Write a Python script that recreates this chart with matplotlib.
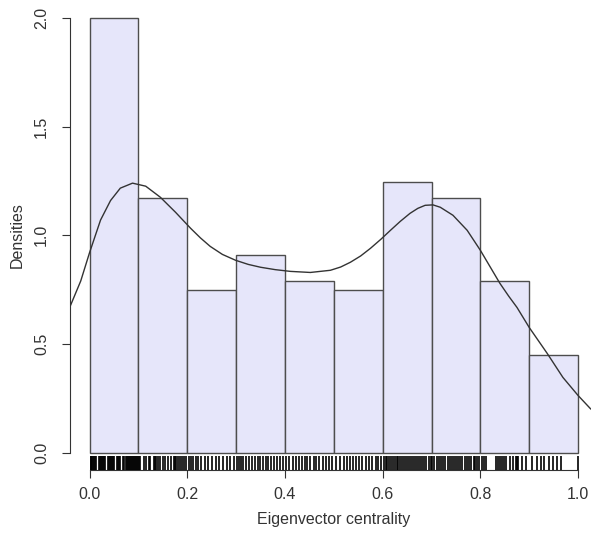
import numpy as np
import matplotlib.pyplot as plt

plt.rcParams['font.family'] = ['Liberation Sans', 'DejaVu Sans']

# histogram: bin edges and densities
bin_edges = [0.0, 0.1, 0.2, 0.3, 0.4, 0.5, 0.6, 0.7, 0.8, 0.9, 1.0]
densities = [2.0, 1.17, 0.75, 0.91, 0.79, 0.75, 1.245, 1.17, 0.79, 0.45]

# density curve, read point by point
curve_x = [-0.039, -0.018, 0.0, 0.0225, 0.043, 0.063, 0.088, 0.115, 0.145, 0.176,
           0.207, 0.227, 0.247, 0.272, 0.299, 0.325, 0.350, 0.380, 0.411, 0.452,
           0.493, 0.514, 0.534, 0.555, 0.575, 0.596, 0.616, 0.636, 0.656, 0.672,
           0.687, 0.703, 0.718, 0.744, 0.773, 0.800, 0.820, 0.840, 0.858, 0.875,
           0.900, 0.937, 0.969, 1.0, 1.025, 1.04]
curve_y = [0.677, 0.79, 0.92, 1.07, 1.16, 1.217, 1.24, 1.226, 1.175, 1.106,
           1.032, 0.988, 0.949, 0.912, 0.885, 0.866, 0.853, 0.842, 0.834, 0.829,
           0.839, 0.854, 0.876, 0.905, 0.94, 0.981, 1.023, 1.064, 1.101, 1.124,
           1.138, 1.140, 1.129, 1.092, 1.023, 0.931, 0.855, 0.779, 0.720, 0.668,
           0.576, 0.456, 0.346, 0.263, 0.203, 0.175]

# rug (individual observations)
rug = [0.002, 0.004, 0.006, 0.008, 0.010, 0.012, 0.014, 0.020, 0.022, 0.024,
       0.026, 0.028, 0.030, 0.032, 0.038, 0.040, 0.042, 0.044, 0.046, 0.048,
       0.050, 0.056, 0.058, 0.060, 0.062, 0.075, 0.077, 0.079, 0.081, 0.083,
       0.085, 0.087, 0.089, 0.091, 0.093, 0.095, 0.097, 0.099, 0.068, 0.071,
       0.101, 0.104, 0.112, 0.115, 0.121, 0.124, 0.131, 0.135, 0.137, 0.141,
       0.145, 0.150, 0.155, 0.160, 0.166, 0.172, 0.175, 0.177, 0.181, 0.186,
       0.190, 0.193, 0.197,
       0.203, 0.207, 0.211, 0.218, 0.222, 0.229, 0.236, 0.243, 0.251, 0.258,
       0.266, 0.273, 0.281, 0.288, 0.295,
       0.302, 0.306, 0.311, 0.314, 0.321, 0.327, 0.333, 0.338, 0.345, 0.349,
       0.356, 0.361, 0.366, 0.371, 0.377, 0.384, 0.390, 0.396,
       0.403, 0.409, 0.416, 0.423, 0.429, 0.434, 0.441, 0.446, 0.452, 0.459,
       0.464, 0.470, 0.477, 0.484, 0.490, 0.497,
       0.505, 0.512, 0.520, 0.526, 0.533, 0.540, 0.546, 0.551, 0.558, 0.566,
       0.572, 0.579, 0.586, 0.591, 0.597,
       0.602, 0.606, 0.609, 0.613, 0.617, 0.621, 0.625, 0.629, 0.632, 0.636,
       0.640, 0.644, 0.648, 0.652, 0.656, 0.660, 0.664, 0.668, 0.672, 0.676,
       0.680, 0.685, 0.689, 0.694, 0.698,
       0.702, 0.706, 0.711, 0.715, 0.719, 0.724, 0.728, 0.733, 0.737, 0.741,
       0.746, 0.750, 0.754, 0.759, 0.763, 0.768, 0.772, 0.777, 0.781, 0.786,
       0.790, 0.794, 0.798,
       0.803, 0.808, 0.812, 0.833, 0.836, 0.840, 0.844, 0.848, 0.852, 0.861,
       0.867, 0.872, 0.874, 0.877, 0.886, 0.894,
       0.906, 0.915, 0.924, 0.931, 0.940, 0.948, 0.957, 0.966, 0.999]

fig = plt.figure(figsize=(5.91, 5.36), dpi=100)
ax = fig.add_axes([70 / 591, 66 / 536, 527.6 / 591, 469.4 / 536])

ax.bar(bin_edges[:-1], densities, width=np.diff(bin_edges), align='edge',
       color='#E6E6FA', edgecolor='#4d4d4d', linewidth=1.0, zorder=2)
ax.plot(curve_x, curve_y, color='#333333', linewidth=1.0, zorder=3)
ax.vlines(rug, -0.08, -0.08 + 0.03 * 2.16, color='black', linewidth=1.2, zorder=3)

ax.set_xlim(-0.04, 1.04)
ax.set_ylim(-0.08, 2.08)
for s in ['top', 'right']:
    ax.spines[s].set_visible(False)
ax.spines['left'].set_bounds(0, 2)
ax.spines['bottom'].set_bounds(0, 1)
for s in ['left', 'bottom']:
    ax.spines[s].set_color('#333333')

ax.set_xticks([0.0, 0.2, 0.4, 0.6, 0.8, 1.0])
ax.set_xticklabels(['0.0', '0.2', '0.4', '0.6', '0.8', '1.0'])
ax.set_yticks([0.0, 0.5, 1.0, 1.5, 2.0])
ax.set_yticklabels(['0.0', '0.5', '1.0', '1.5', '2.0'], rotation=90, va='center')
ax.tick_params(axis='x', length=6, pad=6, labelsize=11.5, colors='#333333')
ax.tick_params(axis='y', length=6, pad=9, labelsize=11.5, colors='#333333')

ax.set_xlabel('Eigenvector centrality', fontsize=11.5, color='#333333')
ax.set_ylabel('Densities', fontsize=11.5, color='#333333')
ax.xaxis.set_label_coords(0.5, -0.09)
ax.yaxis.set_label_coords(-0.085, 0.5)

fig.savefig('out.png', dpi=100)
